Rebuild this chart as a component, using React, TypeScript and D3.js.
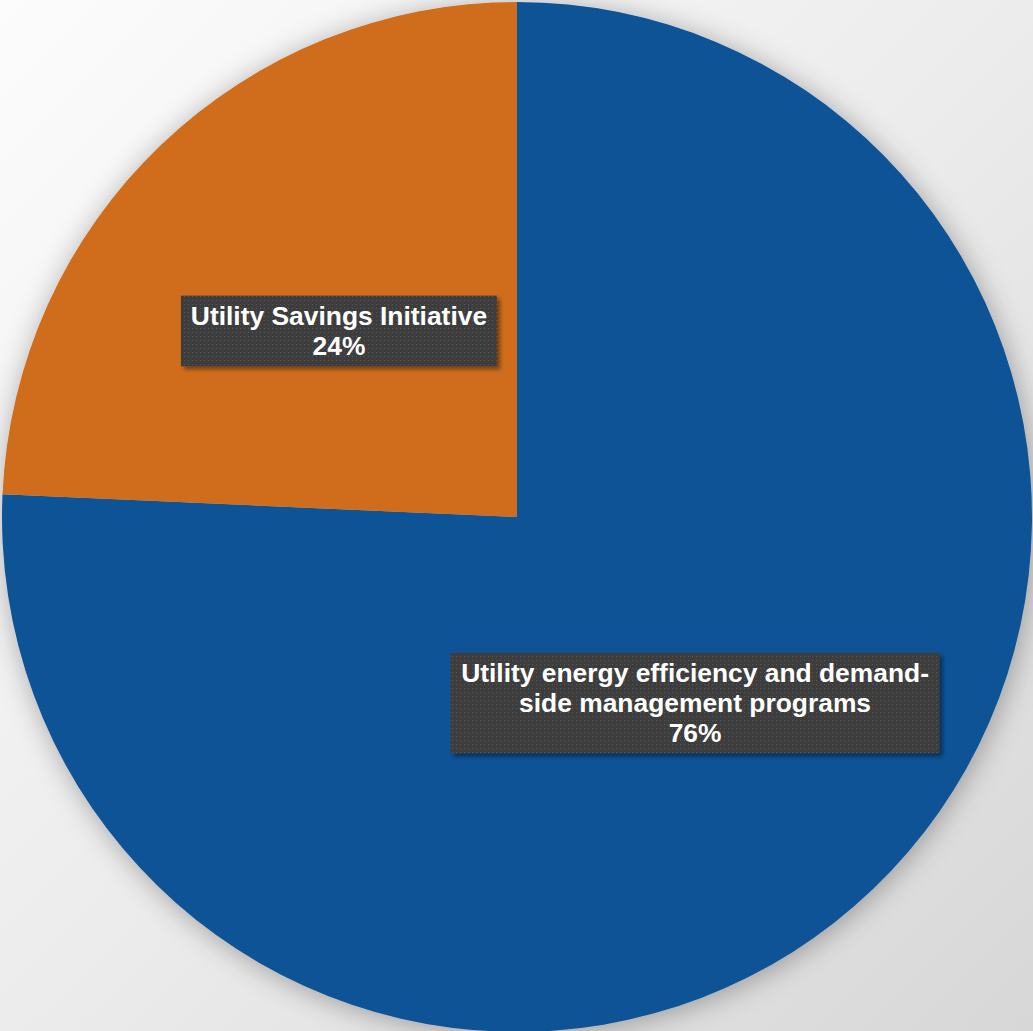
import React from "react";
import * as d3 from "d3";

const categories = ["Utility energy efficiency and demand-side management programs", "Utility Savings Initiative"];
const labelLines = [["Utility energy efficiency and demand-", "side management programs"], ["Utility Savings Initiative"]];
const values = [75.7, 24.3];
const colors = ["#0a5396", "#cf6d1a"];

const W = 1033, H = 1031;
const cx = 517, cy = 517, R = 515;

export default function App() {
  const total = d3.sum(values);
  const pie = d3.pie<number>().sort(null).value(d => d)(values);
  const arc = d3.arc<d3.PieArcDatum<number>>().innerRadius(0).outerRadius(R);
  const fontSize = 26.4;
  const lineH = 29.8;
  const boxes = [
    { w: 489 },
    { w: 316 },
  ];
  return (
    <svg width={W} height={H} style={{ position: "fixed", left: 0, top: 0 }} xmlns="http://www.w3.org/2000/svg">
      <defs>
        <linearGradient id="bg" x1="0" y1="0" x2="1" y2="1">
          <stop offset="0" stopColor="#fcfcfc" />
          <stop offset="0.5" stopColor="#ececec" />
          <stop offset="1" stopColor="#d7d7d7" />
        </linearGradient>
        <filter id="pieShadow" x="-10%" y="-10%" width="120%" height="120%">
          <feDropShadow dx="2" dy="3" stdDeviation="14" floodColor="#000" floodOpacity="0.32" />
        </filter>
        <filter id="boxShadow" x="-10%" y="-20%" width="120%" height="140%">
          <feDropShadow dx="3" dy="3" stdDeviation="2" floodColor="#000" floodOpacity="0.45" />
        </filter>
        <pattern id="dots" width="4" height="4" patternUnits="userSpaceOnUse">
          <rect width="4" height="4" fill="#3e3e3e" />
          <rect x="1" y="1" width="1" height="1" fill="#585858" />
        </pattern>
      </defs>
      <rect width={W} height={H} fill="url(#bg)" />
      <g transform={`translate(${cx},${cy})`}>
        <g filter="url(#pieShadow)">
          {pie.map((p, i) => (
            <path key={categories[i]} d={arc(p) || ""} fill={colors[i]} />
          ))}
        </g>
        {pie.map((p, i) => {
          const [x, y] = arc.centroid(p);
          const lines = [...labelLines[i], `${Math.round((values[i] / total) * 100)}%`];
          const bw = boxes[i].w;
          const bh = lines.length * lineH + 11;
          return (
            <g key={"l" + i} transform={`translate(${x},${y})`}>
              <rect x={-bw / 2} y={-bh / 2} width={bw} height={bh} fill="url(#dots)" filter="url(#boxShadow)" />
              {lines.map((t, j) => (
                <text
                  key={j}
                  x={0}
                  y={(j - (lines.length - 1) / 2) * lineH}
                  dy="0.35em"
                  textAnchor="middle"
                  fill="#ffffff"
                  fontFamily="'Liberation Sans', Arial, sans-serif"
                  fontWeight="bold"
                  fontSize={fontSize}
                >
                  {t}
                </text>
              ))}
            </g>
          );
        })}
      </g>
    </svg>
  );
}
